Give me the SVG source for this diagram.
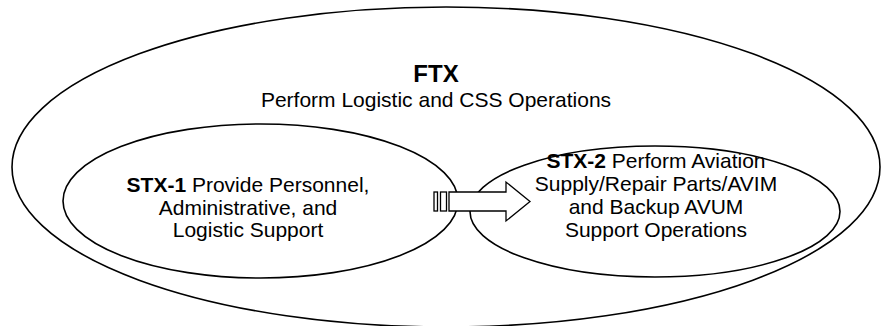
<svg xmlns="http://www.w3.org/2000/svg" width="882" height="326" viewBox="0 0 882 326">
  <style>
    .ring { fill: none; stroke: #000; stroke-width: 1.6; }
    .shape { fill: #fff; stroke: #000; stroke-width: 1.3; }
    text { font-family: "Liberation Sans", Arial, sans-serif; fill: #000; text-anchor: middle; }
    .lbl { font-size: 21px; }
    .title { font-size: 24px; font-weight: bold; }
    .b { font-weight: bold; }
  </style>

  <g id="ftx">
    <ellipse class="ring" cx="446" cy="167" rx="434" ry="160"/>
    <text class="title" x="436" y="82">FTX</text>
    <text class="lbl" x="436" y="107">Perform Logistic and CSS Operations</text>
  </g>

  <g id="stx1">
    <ellipse class="ring" cx="260.5" cy="201" rx="197.5" ry="77"/>
    <text class="lbl" x="248" y="192"><tspan class="b">STX-1</tspan> Provide Personnel,</text>
    <text class="lbl" x="248" y="214.5">Administrative, and</text>
    <text class="lbl" x="248" y="237">Logistic Support</text>
  </g>

  <g id="stx2">
    <ellipse class="ring" cx="655" cy="211.5" rx="185" ry="65.5"/>
    <text class="lbl" x="656" y="168"><tspan class="b">STX-2</tspan> Perform Aviation</text>
    <text class="lbl" x="656" y="191">Supply/Repair Parts/AVIM</text>
    <text class="lbl" x="656" y="214">and Backup AVUM</text>
    <text class="lbl" x="656" y="237">Support Operations</text>
  </g>

  <g id="connectors">
    <rect class="shape" x="434" y="192" width="3.5" height="19"/>
    <rect class="shape" x="440.5" y="192" width="6" height="19"/>
    <path class="shape" d="M449,192 H506 V182 L530,201.5 L506,221 V211 H449 Z"/>
  </g>
</svg>
